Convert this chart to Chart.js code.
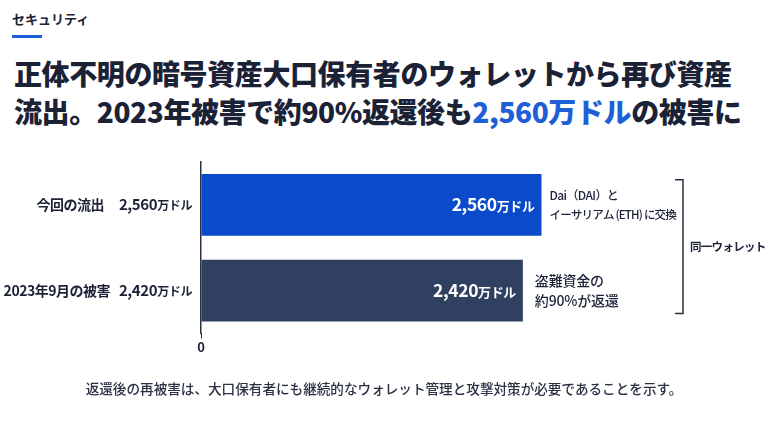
<!DOCTYPE html>
<html lang="ja">
<head>
<meta charset="utf-8">
<script src="https://cdn.jsdelivr.net/npm/chart.js@4.4.1/dist/chart.umd.min.js"></script>
<style>
  html, body { margin: 0; padding: 0; background: #fff; }
  body { width: 768px; height: 432px; position: relative; overflow: hidden;
         font-family: "Noto Sans CJK JP", "Noto Sans", sans-serif; color: #1b2236; }
  .kicker { position: absolute; left: 12px; top: 9px; font-size: 13px; font-weight: 700; }
  .kicker-bar { position: absolute; left: 12px; top: 35px; width: 30px; height: 3px; background: #1f5fd6; }
  .title { position: absolute; left: 14px; top: 54px; font-size: 28px; font-weight: 900;
           line-height: 38px; letter-spacing: -0.4px; white-space: nowrap; }
  .title .hl { color: #1f5fd6; }
  .note { position: absolute; left: 0; width: 768px; top: 378px; text-align: center;
          font-size: 13.6px; font-weight: 500; color: #2a3142; }
  #wrap { position: absolute; left: 0; top: 0; width: 768px; height: 432px; }
</style>
</head>
<body>
<div class="kicker">セキュリティ</div>
<div class="kicker-bar"></div>
<div class="title">正体不明の暗号資産大口保有者のウォレットから再び資産<br>流出。2023年被害で約90%返還後も<span class="hl">2,560万ドル</span>の被害に</div>
<div id="wrap"><canvas id="chart"></canvas></div>
<div class="note">返還後の再被害は、大口保有者にも継続的なウォレット管理と攻撃対策が必要であることを示す。</div>

<script>
// data
const categories = ['今回の流出', '2023年9月の被害'];
const amounts = [2560, 2420];          // 万ドル
const barColors = ['#0b4acb', '#2f4060'];
const notes = [
    ['Dai（DAI）と', 'イーサリアム (ETH) に交換'],
    ['盗難資金の', '約90%が返還']
];
const bracketLabel = '同一ウォレット';
const xMax = 3000;

const JP = '"Noto Sans CJK JP", "Noto Sans", sans-serif';

function fmt(v) {
    return v.toLocaleString('en-US');
}

// draws "2,560" + small "万ドル", right aligned at x
function drawAmount(ctx, v, xRight, y, bigSize, smallSize, color) {
    const num = fmt(v);
    const unit = '万ドル';
    ctx.save();
    ctx.fillStyle = color;
    ctx.textBaseline = 'alphabetic';
    ctx.letterSpacing = '-0.4px';
    ctx.font = '700 ' + smallSize + 'px ' + JP;
    const wu = ctx.measureText(unit).width;
    ctx.font = '700 ' + bigSize + 'px ' + JP;
    const wn = ctx.measureText(num).width;
    const base = y + bigSize * 0.36;
    ctx.textAlign = 'left';
    ctx.fillText(num, xRight - wu - wn, base);
    ctx.font = '700 ' + smallSize + 'px ' + JP;
    ctx.fillText(unit, xRight - wu, base);
    ctx.restore();
    return wu + wn;
}

const labelPlugin = {
    id: 'labels',
    afterDatasetsDraw(chart) {
        const ctx = chart.ctx;
        const yScale = chart.scales.y;
        const bars = chart.getDatasetMeta(0).data;

        categories.forEach((cat, i) => {
            const y = yScale.getPixelForTick(i);
            // category label + amount at left of axis
            const w = drawAmount(ctx, amounts[i], 192, y, 15, 12, '#1b2236');
            ctx.save();
            ctx.font = '700 14px ' + JP;
            ctx.letterSpacing = '-0.5px';
            ctx.fillStyle = '#1b2236';
            ctx.textAlign = 'right';
            ctx.textBaseline = 'middle';
            ctx.fillText(cat, 192 - w - (i === 0 ? 15 : 9), y);
            ctx.restore();

            // value inside bar
            const bar = bars[i];
            drawAmount(ctx, amounts[i], bar.x - 7, bar.y, 17.5, 13, '#ffffff');

            // note beside bar
            ctx.save();
            ctx.fillStyle = '#1b2236';
            ctx.textAlign = 'left';
            ctx.textBaseline = 'middle';
            const gap = i === 0 ? 19 : 20;
            notes[i].forEach((line, k) => {
                let fs = 14, ls = '-0.2px';
                if (i === 0) { fs = k === 0 ? 12 : 11.5; ls = k === 0 ? '-0.6px' : '-0.8px'; }
                ctx.letterSpacing = ls;
                ctx.font = '500 ' + fs + 'px ' + JP;
                ctx.fillText(line, bar.x + (i === 0 ? 8 : 12), bar.y - gap / 2 + k * gap);
            });
            ctx.restore();
        });

        // bracket
        const top = bars[0].y - 25;
        const bottom = bars[1].y + 23;
        const bx = 683;
        ctx.save();
        ctx.strokeStyle = '#2a3142';
        ctx.lineWidth = 1.5;
        ctx.beginPath();
        ctx.moveTo(bx - 8, top);
        ctx.lineTo(bx, top);
        ctx.lineTo(bx, bottom);
        ctx.lineTo(bx - 8, bottom);
        ctx.stroke();
        ctx.font = '600 11.5px ' + JP;
        ctx.letterSpacing = '-0.7px';
        ctx.fillStyle = '#1b2236';
        ctx.textAlign = 'left';
        ctx.textBaseline = 'middle';
        ctx.fillText(bracketLabel, bx + 7, (top + bottom) / 2);
        ctx.restore();
    }
};

new Chart(document.getElementById('chart'), {
    type: 'bar',
    data: {
        labels: categories,
        datasets: [{
            data: amounts,
            backgroundColor: barColors,
            borderWidth: 0,
            barPercentage: 0.72,
            categoryPercentage: 1
        }]
    },
    options: {
        indexAxis: 'y',
        responsive: true,
        maintainAspectRatio: false,
        animation: false,
        layout: { padding: { left: 193, right: 168, top: 162, bottom: 76 } },
        plugins: {
            legend: { display: false },
            tooltip: { enabled: false }
        },
        scales: {
            x: {
                min: 0,
                max: xMax,
                afterBuildTicks: scale => { scale.ticks = [{ value: 0 }]; },
                border: { display: false },
                grid: { display: true, drawOnChartArea: false, drawTicks: true, tickLength: 5, color: '#2a3142' },
                ticks: { padding: 1, color: '#1b2236', font: { family: JP, size: 13, weight: '700' } }
            },
            y: {
                border: { display: true, color: '#2a3142', width: 1.5 },
                grid: { display: false },
                ticks: { display: false }
            }
        }
    },
    plugins: [labelPlugin]
});
</script>
</body>
</html>
